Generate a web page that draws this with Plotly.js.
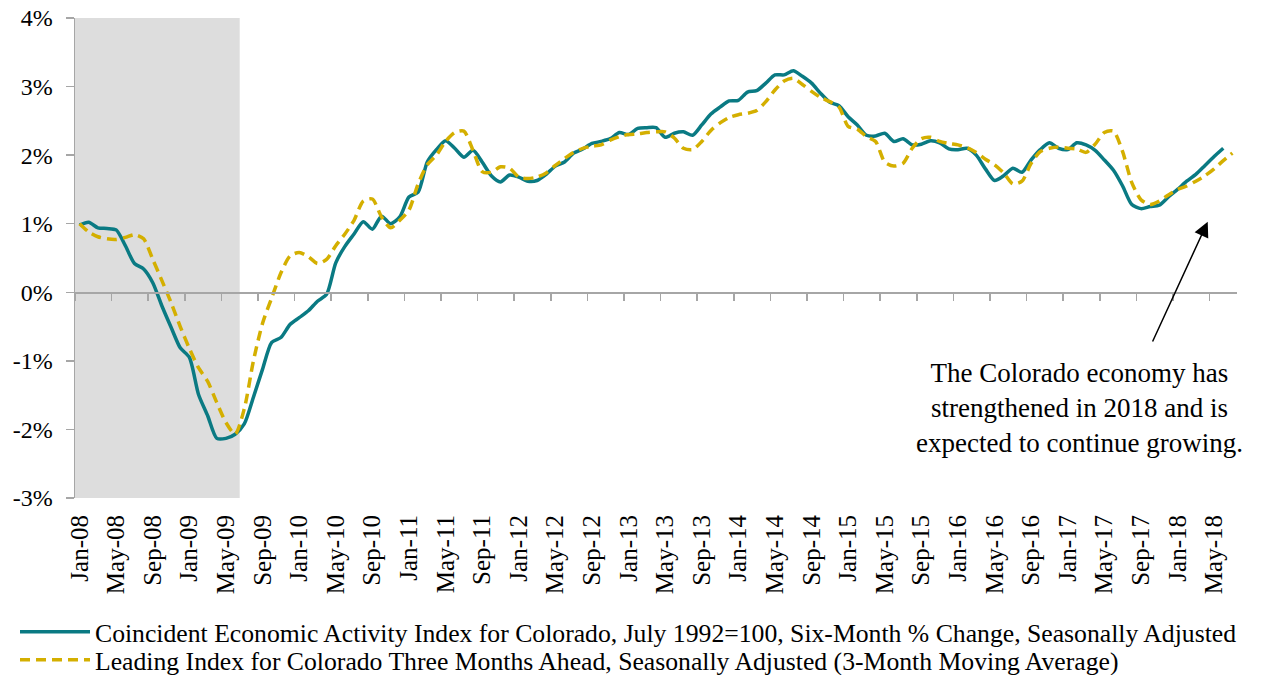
<!DOCTYPE html>
<html>
<head>
<meta charset="utf-8">
<script src="https://cdn.plot.ly/plotly-3.0.1.min.js"></script>
<style>html,body{margin:0;padding:0;background:#fff;}#chart{width:1262px;height:675px;}</style>
</head>
<body>
<div id="chart"></div>
<script>
// Month categories Jan-08 .. Jul-18
const monthNames = ['Jan','Feb','Mar','Apr','May','Jun','Jul','Aug','Sep','Oct','Nov','Dec'];
const categories = [];
for (let y = 2008; y <= 2018; y++) {
  for (let m = 0; m < 12; m++) {
    if (y === 2018 && m > 6) break;
    categories.push(monthNames[m] + '-' + String(y).slice(2));
  }
}

// Coincident Economic Activity Index, six-month % change (Jan-08 .. Jun-18)
const coincident = [
  0.98, 1.02, 0.94, 0.93, 0.91, 0.68, 0.42, 0.34, 0.14, -0.20,
  -0.51, -0.81, -0.95, -1.49, -1.80, -2.13, -2.13, -2.07, -1.92, -1.53,
  -1.12, -0.73, -0.66, -0.47, -0.37, -0.27, -0.13, -0.03, 0.43, 0.67,
  0.85, 1.03, 0.92, 1.11, 1.00, 1.10, 1.39, 1.46, 1.90, 2.08,
  2.21, 2.10, 1.97, 2.07, 1.90, 1.70, 1.61, 1.71, 1.68, 1.62,
  1.63, 1.72, 1.84, 1.90, 2.03, 2.09, 2.17, 2.20, 2.24, 2.33,
  2.30, 2.39, 2.40, 2.40, 2.26, 2.32, 2.34, 2.29, 2.44, 2.60,
  2.70, 2.79, 2.80, 2.92, 2.94, 3.05, 3.17, 3.17, 3.23, 3.15,
  3.05, 2.90, 2.77, 2.72, 2.56, 2.44, 2.29, 2.28, 2.32, 2.20,
  2.24, 2.15, 2.16, 2.21, 2.18, 2.09, 2.08, 2.10, 2.00, 1.80,
  1.63, 1.70, 1.81, 1.75, 1.93, 2.08, 2.18, 2.10, 2.08, 2.18,
  2.15, 2.07, 1.93, 1.78, 1.55, 1.28, 1.22, 1.25, 1.27, 1.39,
  1.50, 1.62, 1.72, 1.85, 1.98, 2.10
];

// Leading Index, three months ahead, 3-month moving average (Jan-08 .. Jul-18)
const leading = [
  1.00, 0.88, 0.81, 0.78, 0.77, 0.80, 0.84, 0.78, 0.48, 0.17,
  -0.15, -0.50, -0.82, -1.10, -1.30, -1.61, -1.90, -2.07, -1.70, -1.00,
  -0.45, -0.08, 0.28, 0.53, 0.58, 0.52, 0.42, 0.48, 0.68, 0.85,
  1.05, 1.33, 1.36, 1.10, 0.94, 1.05, 1.20, 1.58, 1.86, 2.00,
  2.20, 2.33, 2.35, 2.07, 1.76, 1.75, 1.83, 1.81, 1.68, 1.66,
  1.68, 1.74, 1.85, 1.95, 2.04, 2.10, 2.13, 2.15, 2.22, 2.27,
  2.30, 2.31, 2.33, 2.34, 2.34, 2.25, 2.10, 2.08, 2.20, 2.36,
  2.47, 2.55, 2.59, 2.61, 2.65, 2.78, 2.95, 3.08, 3.12, 3.03,
  2.93, 2.84, 2.78, 2.70, 2.42, 2.38, 2.27, 2.20, 1.90, 1.84,
  1.88, 2.10, 2.24, 2.26, 2.20, 2.17, 2.15, 2.11, 2.04, 1.94,
  1.86, 1.74, 1.58, 1.62, 1.88, 2.05, 2.10, 2.12, 2.10, 2.09,
  2.04, 2.16, 2.33, 2.35, 2.05, 1.60, 1.35, 1.28, 1.33, 1.42,
  1.50, 1.55, 1.62, 1.70, 1.80, 1.92, 2.03
];

const yTickVals = [-3, -2, -1, 0, 1, 2, 3, 4];
const yTickText = ['-3%', '-2%', '-1%', '0%', '1%', '2%', '3%', '4%'];
const xTickLabels = categories.filter((c, i) => i % 4 === 0);

const recessionStart = 'Jan-08';
const recessionEnd = 'Jun-09';

const seriesNames = [
  'Coincident Economic Activity Index for Colorado, July 1992=100, Six-Month % Change, Seasonally Adjusted',
  'Leading Index for Colorado Three Months Ahead, Seasonally Adjusted (3-Month Moving Average)'
];
const noteText = 'The Colorado economy has<br>strengthened in 2018 and is<br>expected to continue growing.';

const FONT = 'Liberation Serif, Times New Roman, serif';
const GRAY = '#a6a6a6';

const nCat = categories.length;
const rStart = categories.indexOf(recessionStart) - 0.5;
const rEnd = categories.indexOf(recessionEnd) + 0.5;
const boundaryTicks = xTickLabels.map(l => categories.indexOf(l) - 0.5);

const traces = [
  {
    x: categories.slice(0, coincident.length), y: coincident,
    type: 'scatter', mode: 'lines', name: seriesNames[0], legend: 'legend',
    line: {color: '#0A7A83', width: 3.5, shape: 'spline', smoothing: 0.7}
  },
  {
    x: categories.slice(0, leading.length), y: leading,
    type: 'scatter', mode: 'lines', name: seriesNames[1], legend: 'legend2',
    line: {color: '#D4AF00', width: 3.5, dash: '10px,6px', shape: 'spline', smoothing: 0.7}
  },
  {
    x: [], y: [], xaxis: 'x2', yaxis: 'y', type: 'scatter', mode: 'lines',
    showlegend: false, hoverinfo: 'skip'
  }
];

const legendCommon = {
  xref: 'container', yref: 'container', xanchor: 'left', yanchor: 'middle',
  orientation: 'v', font: {family: FONT, size: 25.7, color: '#000'},
  bgcolor: 'rgba(0,0,0,0)', itemwidth: 70, borderwidth: 0
};

const layout = {
  width: 1262, height: 675,
  margin: {l: 75, r: 25, t: 18, b: 177, autoexpand: false},
  paper_bgcolor: '#ffffff', plot_bgcolor: 'rgba(0,0,0,0)',
  font: {family: FONT, size: 20, color: '#000'},
  showlegend: true,
  legend: Object.assign({}, legendCommon, {x: 15 / 1262, y: 1 - 632 / 675}),
  legend2: Object.assign({}, legendCommon, {x: 15 / 1262, y: 1 - 660 / 675}),
  xaxis: {
    type: 'category', categoryorder: 'array', categoryarray: categories,
    range: [-0.5, nCat - 0.5],
    tickmode: 'array', tickvals: xTickLabels, ticktext: xTickLabels,
    tickangle: -90, ticks: '', showline: false, showgrid: false, zeroline: false,
    ticklabelstandoff: 11,
    tickfont: {family: FONT, size: 25, color: '#000'}, automargin: false
  },
  xaxis2: {
    type: 'linear', overlaying: 'x', anchor: 'free', position: 3 / 7,
    range: [-0.5, nCat - 0.5], side: 'bottom',
    tickmode: 'array', tickvals: boundaryTicks, showticklabels: false,
    ticks: 'outside', ticklen: 7, tickwidth: 1.5, tickcolor: GRAY,
    showline: true, linecolor: GRAY, linewidth: 1.5, showgrid: false, zeroline: false
  },
  yaxis: {
    range: [-3, 4], tickmode: 'array', tickvals: yTickVals, ticktext: yTickText,
    ticks: 'outside', ticklen: 8, tickwidth: 1.5, tickcolor: GRAY,
    showline: true, linecolor: GRAY, linewidth: 1.5, showgrid: false, zeroline: false,
    ticklabelstandoff: 8,
    tickfont: {family: FONT, size: 24, color: '#000'}, automargin: false
  },
  shapes: [
    {type: 'rect', xref: 'x', yref: 'paper', x0: rStart, x1: rEnd, y0: 0, y1: 1,
     fillcolor: '#dddddd', line: {width: 0}, layer: 'below'}
  ],
  annotations: [
    {xref: 'x', yref: 'y', x: 109.3, y: -1.69, text: noteText, showarrow: false,
     xanchor: 'center', yanchor: 'middle', align: 'center',
     font: {family: FONT, size: 27, color: '#000'}},
    {xref: 'x', yref: 'y', axref: 'x', ayref: 'y', x: 123.3, y: 1.03, ax: 117.2, ay: -0.74,
     text: '', showarrow: true, arrowhead: 2, arrowsize: 2, arrowwidth: 1.5, arrowcolor: '#000'}
  ]
};

Plotly.newPlot('chart', traces, layout, {displayModeBar: false, staticPlot: true});
</script>
</body>
</html>
